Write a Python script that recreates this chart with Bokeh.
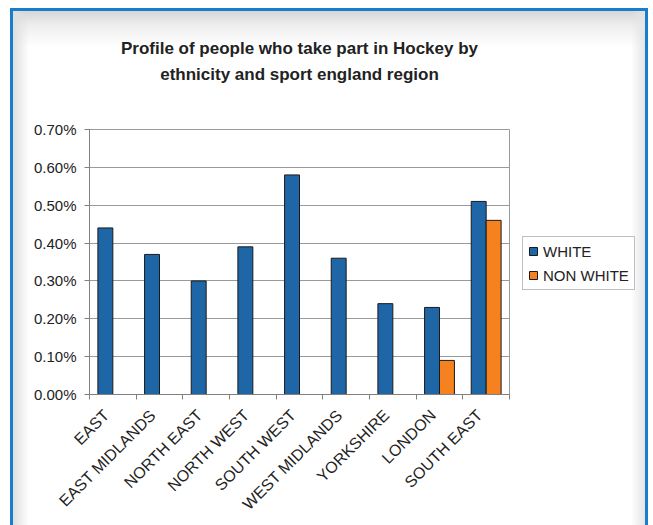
import math
from bokeh.plotting import figure
from bokeh.models import (ColumnDataSource, Range1d, FixedTicker, NumeralTickFormatter,
                          Legend, LegendItem, Title)
from bokeh.embed import file_html
from bokeh.resources import INLINE

regions = ["EAST", "EAST MIDLANDS", "NORTH EAST", "NORTH WEST", "SOUTH WEST",
           "WEST MIDLANDS", "YORKSHIRE", "LONDON", "SOUTH EAST"]
white = [0.0044, 0.0037, 0.0030, 0.0039, 0.0058, 0.0036, 0.0024, 0.0023, 0.0051]
non_white = [0, 0, 0, 0, 0, 0, 0, 0.0009, 0.0046]
series_names = ["WHITE", "NON WHITE"]
y_ticks = [0.0, 0.001, 0.002, 0.003, 0.004, 0.005, 0.006, 0.007]
title_lines = ["Profile of people who take part in Hockey by",
               "ethnicity and sport england region"]

BLUE = "#1f66a6"
ORANGE = "#f5821f"
FONT = "Liberation Sans"

idx = list(range(len(regions)))
bw = 0.32
src_w = ColumnDataSource(dict(x=[i + 0.5 - bw / 2 for i in idx], top=white))
nw_i = [i for i in idx if non_white[i] > 0]
src_n = ColumnDataSource(dict(x=[i + 0.5 + bw / 2 for i in nw_i],
                              top=[non_white[i] for i in nw_i]))

p = figure(frame_width=420, frame_height=265, output_backend="svg", toolbar_location=None,
           x_range=Range1d(0, len(regions)), y_range=Range1d(0, 0.007),
           min_border_left=76, min_border_top=118, min_border_bottom=136, min_border_right=136)
p.styles = {"margin-left": "10px", "margin-top": "8px",
            "width": "638px", "overflow": "hidden",
            "border": "3px solid #1b7ccb",
            "background": ("linear-gradient(to right, #dedede 0px, rgba(255,255,255,0) 16px), "
                           "linear-gradient(to left, #e4e4e4 0px, rgba(255,255,255,0) 14px), "
                           "linear-gradient(to bottom, #d6d6d6 0px, #eeeeee 14px, #ffffff 36px)")}

# spacer + title lines: first added sits nearest the frame
p.add_layout(Title(text=" ", text_font_size="1px", offset=0, standoff=40), "above")
p.add_layout(Title(text=title_lines[1], align="center", text_font=FONT, text_font_size="17px",
                   text_font_style="bold", text_color="#222222", offset=0, standoff=5), "above")
p.add_layout(Title(text=title_lines[0], align="center", text_font=FONT, text_font_size="17px",
                   text_font_style="bold", text_color="#222222", offset=0, standoff=5), "above")

rw = p.vbar(x="x", top="top", width=bw, source=src_w, fill_color=BLUE,
            line_color="#1a1a1a", line_width=1)
rn = p.vbar(x="x", top="top", width=bw, source=src_n, fill_color=ORANGE,
            line_color="#1a1a1a", line_width=1)

# axes
p.yaxis.ticker = FixedTicker(ticks=y_ticks)
p.yaxis.formatter = NumeralTickFormatter(format="0.00%")
p.yaxis.major_label_text_font = FONT
p.yaxis.major_label_text_font_size = "15px"
p.yaxis.major_label_text_color = "#222222"
p.yaxis.axis_line_color = "#808080"
p.yaxis.major_tick_line_color = "#808080"
p.yaxis.major_tick_in = 0
p.yaxis.major_tick_out = 5
p.yaxis.minor_tick_line_color = None
p.yaxis.major_label_standoff = 8

label_pos = [i + 0.36 for i in idx]
p.xaxis.ticker = FixedTicker(ticks=label_pos, minor_ticks=list(range(len(regions) + 1)))
p.xaxis.major_label_overrides = {x: r for x, r in zip(label_pos, regions)}
p.xaxis.major_label_orientation = math.pi / 4
p.xaxis.major_label_text_font = FONT
p.xaxis.major_label_text_font_size = "16px"
p.xaxis.major_label_text_color = "#222222"
p.xaxis.major_tick_line_color = None
p.xaxis.minor_tick_line_color = "#808080"
p.xaxis.minor_tick_in = 0
p.xaxis.minor_tick_out = 5
p.xaxis.axis_line_color = "#808080"
p.xaxis.major_label_standoff = 12

p.xgrid.grid_line_color = None
p.ygrid.ticker = FixedTicker(ticks=y_ticks)
p.ygrid.grid_line_color = "#9a9a9a"
p.ygrid.grid_line_width = 1
p.outline_line_color = "#9a9a9a"
p.background_fill_color = "white"
p.border_fill_color = None

legend = Legend(items=[LegendItem(label=series_names[0], renderers=[rw]),
                       LegendItem(label=series_names[1], renderers=[rn])],
                location=(13, 104), label_text_font=FONT, label_text_font_size="15px",
                label_text_color="#222222", glyph_width=10, glyph_height=10,
                border_line_color="#808080", border_line_width=1,
                background_fill_color="white",
                padding=5, spacing=6, margin=0, label_standoff=5, label_height=18)
p.add_layout(legend, "right")

open("out.html", "w").write(file_html(p, INLINE))
